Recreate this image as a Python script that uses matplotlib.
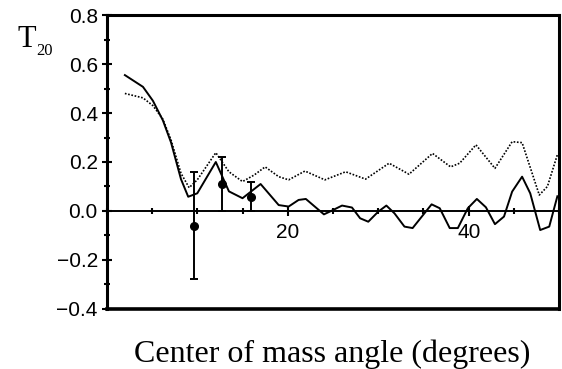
import matplotlib
matplotlib.use("Agg")
import matplotlib.pyplot as plt
from matplotlib.ticker import MultipleLocator, FixedLocator

# solid curve
solid_x = [2, 4, 5.1, 6.2, 7.1, 8.2, 9.0, 10.0, 12.05, 13.5, 15.0, 17.0, 19.0,
           20.1, 21.2, 22.0, 24.0, 24.8, 26.0, 27.1, 28.0, 28.9, 30.0, 30.9,
           31.8, 32.9, 33.8, 35.9, 36.8, 37.9, 38.8, 39.9, 40.9, 41.9, 42.9,
           43.9, 44.8, 45.9, 46.8, 47.9, 48.9, 49.8]
solid_y = [0.555, 0.507, 0.45, 0.37, 0.28, 0.13, 0.058, 0.072, 0.20, 0.08,
           0.052, 0.11, 0.024, 0.018, 0.045, 0.049, -0.014, 0.0, 0.022, 0.014,
           -0.03, -0.044, -0.003, 0.022, -0.01, -0.064, -0.07, 0.027, 0.011,
           -0.07, -0.07, 0.011, 0.049, 0.015, -0.054, -0.023, 0.079, 0.14,
           0.072, -0.078, -0.064, 0.06]

# dotted curve
dot_x = [2, 4, 5.1, 6.2, 7.1, 8.2, 9.1, 10.0, 12.05, 13.5, 15.0, 16.3, 17.5,
         19.0, 20.1, 21.9, 24.1, 26.4, 28.6, 31.2, 33.4, 36.0, 38.0, 39.0,
         40.8, 42.9, 44.8, 45.9, 47.8, 48.7, 49.8]
dot_y = [0.48, 0.462, 0.43, 0.375, 0.29, 0.154, 0.095, 0.127, 0.238, 0.16,
         0.12, 0.147, 0.18, 0.14, 0.127, 0.163, 0.127, 0.16, 0.13, 0.195, 0.15,
         0.235, 0.18, 0.195, 0.27, 0.174, 0.283, 0.279, 0.065, 0.1, 0.23]

# data points
pt_x = [9.6, 12.7, 15.9]
pt_y = [-0.06, 0.11, 0.058]
pt_err = [0.22, 0.11, 0.06]

plt.rcParams['font.family'] = 'Liberation Sans'

fig = plt.figure(figsize=(5.62, 3.69), dpi=100)
ax = fig.add_axes([0.190, 0.163, 0.805, 0.796])

ax.plot(solid_x, solid_y, color='k', lw=1.4)
ax.plot(dot_x, dot_y, color='k', lw=1.2, linestyle=(0, (1, 1)))
ax.errorbar(pt_x, pt_y, yerr=pt_err, fmt='o', color='k', ms=5.5,
            capsize=3, elinewidth=1.4, capthick=1.4)

ax.set_xlim(0, 50)
ax.set_ylim(-0.4, 0.8)

# x axis runs along y = 0, box closed by the other spines
ax.spines['bottom'].set_position(('data', 0))
ax.spines['bottom'].set_linewidth(1.4)
for s in ['left', 'top', 'right']:
    ax.spines[s].set_linewidth(2.2)
ax.axhline(-0.4, color='k', lw=2.6, clip_on=False)

ax.xaxis.set_major_locator(FixedLocator([20, 40]))
ax.xaxis.set_minor_locator(MultipleLocator(5))
ax.yaxis.set_major_locator(MultipleLocator(0.2))
ax.yaxis.set_minor_locator(MultipleLocator(0.1))

ax.tick_params(axis='both', which='major', direction='inout', length=7,
               width=1.5, labelsize=15)
ax.tick_params(axis='both', which='minor', direction='inout', length=4,
               width=1.5)
ax.tick_params(axis='x', which='major', pad=5)
ax.tick_params(axis='y', which='major', pad=3)
ax.set_yticks([-0.4, -0.2, 0.0, 0.2, 0.4, 0.6, 0.8])
ax.set_yticklabels(['\u22120.4', '\u22120.2', '0.0', '0.2', '0.4', '0.6', '0.8'])

fig.text(17 / 562, 1 - 47 / 369, 'T', family='Liberation Serif', fontsize=22,
         va='baseline', ha='left')
fig.text(36 / 562, 1 - 55 / 369, '20', family='Liberation Serif', fontsize=12,
         va='baseline', ha='left')

fig.text(332 / 562, 1 - 362 / 369, 'Center of mass angle (degrees)',
         family='Liberation Serif', fontsize=23, ha='center', va='baseline')

fig.savefig('out.png', dpi=100)
